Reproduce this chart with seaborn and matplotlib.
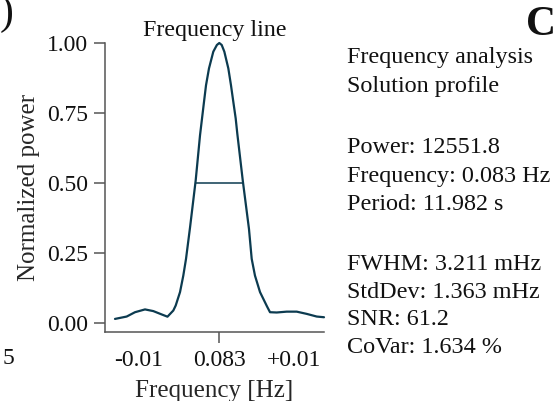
import numpy as np
import pandas as pd
import matplotlib
matplotlib.use("Agg")
import matplotlib.pyplot as plt
import seaborn as sns

# ---------------- data ----------------
center_freq = 0.083
freq_offset = [-0.01304, -0.01158, -0.01054, -0.00929, -0.00825, -0.00720,
               -0.00648, -0.00595, -0.00575, -0.00545, -0.00491, -0.00450,
               -0.00416, -0.00366, -0.00295, -0.00241, -0.00216, -0.00191,
               -0.00166, -0.00129, -0.00075, -0.00030, 0.0, 0.00030,
               0.00063, 0.00113, 0.00146, 0.00175, 0.00205, 0.00225,
               0.00293, 0.00371, 0.00405, 0.00446, 0.00509, 0.00596,
               0.00634, 0.00718, 0.00843, 0.00968, 0.01093, 0.01218, 0.01309]
norm_power = [0.013, 0.0215, 0.037, 0.047, 0.041, 0.029,
              0.021, 0.037, 0.043, 0.061, 0.109, 0.168,
              0.228, 0.340, 0.509, 0.670, 0.730, 0.790,
              0.849, 0.909, 0.969, 0.993, 1.000, 0.993,
              0.969, 0.909, 0.849, 0.790, 0.730, 0.676,
              0.509, 0.335, 0.228, 0.168, 0.109, 0.058,
              0.037, 0.036, 0.039, 0.039, 0.031, 0.0215, 0.019]
half_level = 0.5
half_bounds = [-0.00295, 0.00293]

xtick_pos = [-0.0101, 0.0, 0.0093]
xtick_labels = ["-0.01", "0.083", "+0.01"]
ytick_vals = [0.00, 0.25, 0.50, 0.75, 1.00]
ytick_labels = ["0.00", "0.25", "0.50", "0.75", "1.00"]

title_text = "Frequency line"
xlabel_text = "Frequency [Hz]"
ylabel_text = "Normalized power"

info_lines = ["Frequency analysis", "Solution profile",
              "Power: 12551.8", "Frequency: 0.083 Hz", "Period: 11.982 s",
              "FWHM: 3.211 mHz", "StdDev: 1.363 mHz", "SNR: 61.2", "CoVar: 1.634 %"]

# ---------------- style ----------------
LINE = "#0c3b50"
SPINE = "#555555"
W, H = 556, 401

sns.set_theme(style="ticks")
plt.rcParams["font.family"] = ["Liberation Serif", "DejaVu Serif"]
plt.rcParams["text.color"] = "#111111"

fig = plt.figure(figsize=(W / 100, H / 100), dpi=100)
fig.patch.set_facecolor("white")

x_left_px, x_right_px = 105, 324
y_top_px, y_bot_px = 43, 331.5
ax = fig.add_axes([x_left_px / W, 1 - y_bot_px / H,
                   (x_right_px - x_left_px) / W, (y_bot_px - y_top_px) / H])
ax.set_facecolor("white")

df = pd.DataFrame({"offset": freq_offset, "power": norm_power})
sns.lineplot(data=df, x="offset", y="power", ax=ax, color=LINE,
             linewidth=1.6, clip_on=False)
ax.lines[0].set_solid_joinstyle("round")
ax.hlines(half_level, half_bounds[0], half_bounds[1], color=LINE, linewidth=1.1)

ax.set_xlim(-0.01429, 0.01309)
ax.set_ylim(-0.032, 1.0)

ax.set_yticks(ytick_vals)
ax.set_yticklabels(ytick_labels)
ax.set_xticks(xtick_pos)
ax.set_xticklabels(xtick_labels)
ticks = ax.xaxis.get_major_ticks()
ticks[0].tick1line.set_visible(False)
ticks[2].tick1line.set_visible(False)

ax.tick_params(axis="both", labelsize=17, colors=SPINE, labelcolor="#111111",
               length=8, width=1.1)
ax.tick_params(axis="y", pad=4)
ax.tick_params(axis="x", pad=5)

for s in ["top", "right"]:
    ax.spines[s].set_visible(False)
for s in ["left", "bottom"]:
    ax.spines[s].set_color(SPINE)
    ax.spines[s].set_linewidth(1.1)

ax.set_title(title_text, fontsize=17.3, pad=5)
ax.set_xlabel(xlabel_text, fontsize=18, labelpad=7)
ax.set_ylabel(ylabel_text, fontsize=18, labelpad=5)

# right-hand info block
baselines = [63, 92, 153, 182, 210, 270, 298, 325, 353]
for txt, yb in zip(info_lines, baselines):
    fig.text(347 / W, 1 - yb / H, txt, fontsize=17.4, ha="left", va="baseline")

# fragments of neighbouring panels
fig.text(526 / W, 1 - 35 / H, "C", fontsize=30, fontweight="bold",
         ha="left", va="baseline")
fig.text(0 / W, 1 - 24 / H, ")", fontsize=30, ha="left", va="baseline")
fig.text(3 / W, 1 - 364 / H, "5", fontsize=17, ha="left", va="baseline")

fig.savefig("out.png", dpi=100, facecolor="white")
